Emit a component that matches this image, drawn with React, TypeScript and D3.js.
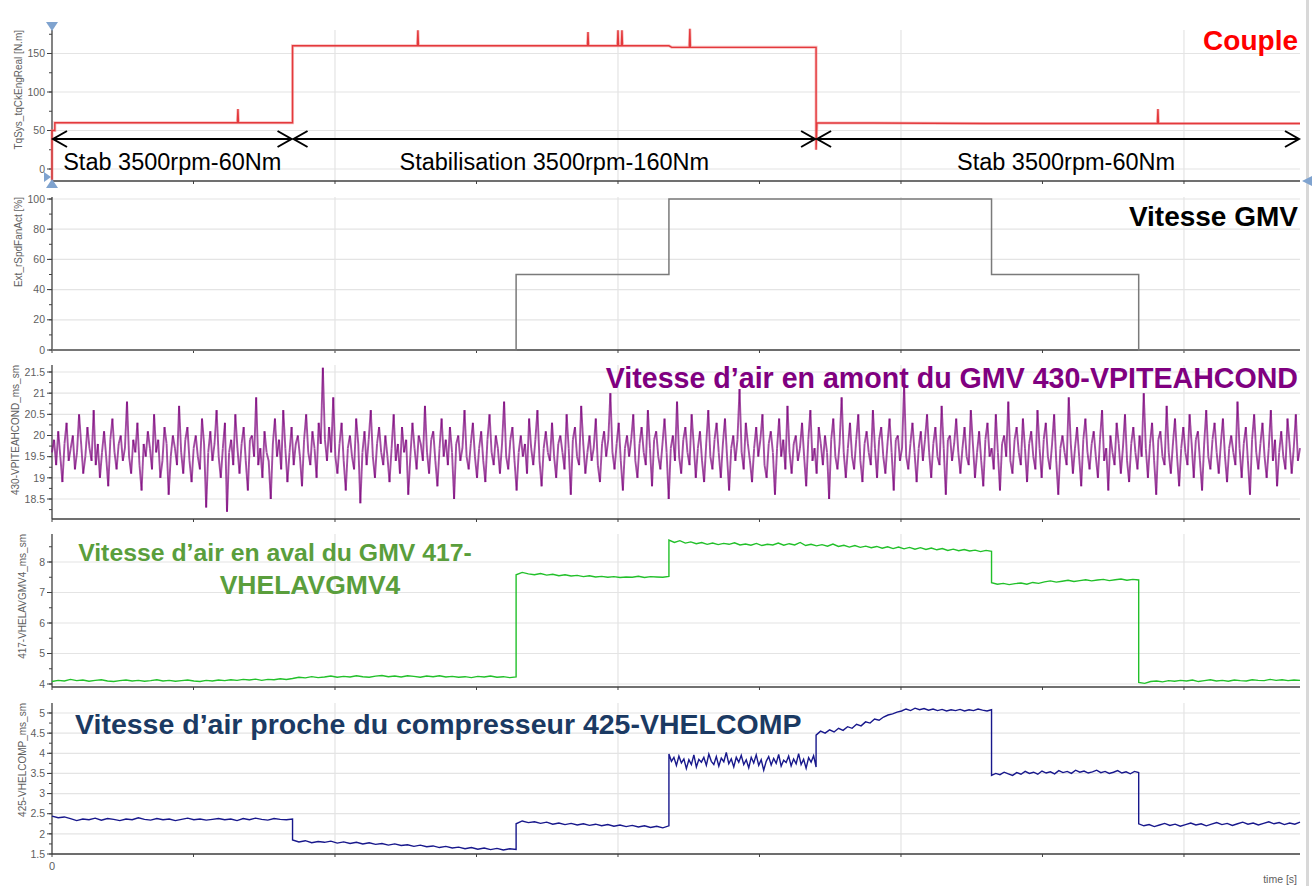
import React from 'react';
import * as d3 from 'd3';

// ---------- DATA ----------
const T_MAX = 4410;

// Couple (torque) trace: time [s] and value [N.m]
const coupleT = [0, 0, 10, 10, 655, 657, 659, 850, 850, 1291, 1293, 1295, 1892, 1894, 1896, 1998, 2000, 2002, 2012, 2014, 2016, 2180, 2190, 2252, 2254, 2256, 2700, 2700, 2703, 3300, 3906, 3908, 3910, 4410];
const coupleV = [-15, 50, 50, 60, 60, 78, 60, 60, 160, 160, 180, 160, 160, 178, 160, 160, 180, 160, 160, 180, 160, 160, 158, 158, 182, 158, 158, 25, 60, 59, 59, 78, 59, 59];

// Phases (arrows)
const phaseStart = [0, 850, 2700];
const phaseEnd = [850, 2700, 4410];
const phaseLabels = ['Stab 3500rpm-60Nm', 'Stabilisation 3500rpm-160Nm', 'Stab 3500rpm-60Nm'];

// Fan speed [%]
const gmvT = [0, 1640, 1640, 2180, 2180, 3320, 3320, 3840, 3840, 4410];
const gmvV = [0, 0, 50, 50, 100, 100, 50, 50, 0, 0];

// Upstream air speed (uniformly sampled over 0..T_MAX)
const amontV = [
  19.6, 19.9, 19.3, 20.1, 19.5, 18.9, 19.8, 20.3, 19.4, 19.7, 20.0, 19.2, 19.6, 20.5, 19.8, 19.1, 19.5, 20.2, 19.7, 19.4,
  20.6, 19.3, 19.8, 19.0, 19.6, 20.1, 19.5, 18.8, 19.9, 20.4, 19.6, 19.2, 19.8, 20.0, 19.4, 19.7, 20.8, 19.5, 19.1, 19.9,
  19.6, 20.3, 19.3, 18.7, 19.8, 19.5, 20.1, 19.7, 19.2, 20.5, 19.6, 19.9, 19.0, 19.4, 20.2, 19.8, 18.6, 19.5, 20.0, 19.7,
  19.3, 20.7, 19.6, 19.1, 19.9, 20.2, 19.4, 18.9, 19.7, 20.0, 19.5, 19.2, 20.4, 19.8, 18.3, 19.6, 20.1, 19.4, 19.8, 20.6,
  19.5, 19.0, 19.7, 20.3, 18.2, 19.6, 19.9, 19.3, 20.5, 19.7, 19.1, 19.8, 20.2, 19.4, 18.7, 19.9, 20.0, 19.5, 20.9, 19.3,
  19.7, 19.0, 20.1, 19.6, 19.4, 18.5, 19.8, 20.4, 19.5, 19.9, 19.2, 20.6, 19.7, 18.9, 19.6, 20.2, 19.3, 19.8, 20.0, 19.5,
  18.8, 19.9, 20.5, 19.6, 19.3, 20.1, 19.7, 19.0, 20.3, 19.8, 21.6, 19.9, 19.4, 20.2, 19.6, 20.9, 19.5, 19.1, 19.8, 20.3,
  19.4, 18.7, 19.7, 20.0, 19.5, 19.2, 20.4, 19.8, 18.4, 19.6, 20.1, 19.3, 19.9, 20.6, 19.5, 19.0, 19.8, 20.2, 19.6, 19.3,
  20.0, 19.5, 18.9, 19.7, 20.5, 19.4, 19.8, 19.1, 20.2, 19.6, 19.9, 18.6, 19.5, 20.3, 19.7, 19.2, 20.0, 19.8, 19.4, 20.7,
  19.6, 19.1, 19.9, 20.1, 19.4, 18.8, 19.7, 20.4, 19.5, 19.9, 19.3, 20.2, 19.6, 18.5, 19.8, 20.0, 19.4, 19.7, 20.6, 19.5,
  19.2, 19.8, 20.3, 19.5, 19.0, 19.7, 20.1, 19.4, 18.9, 19.9, 20.5, 19.6, 19.3, 20.0, 19.7, 19.1, 19.8, 20.8, 19.5, 19.2,
  19.9, 20.2, 19.4, 18.7, 19.6, 20.0, 19.5, 19.8, 19.1, 20.4, 19.7, 19.3, 19.9, 20.6, 19.4, 18.8, 19.7, 20.1, 19.6, 19.4,
  20.3, 19.5, 19.0, 19.8, 20.0, 19.6, 19.2, 20.5, 19.7, 18.6, 19.9, 20.2, 19.5, 19.3, 20.7, 19.8, 19.1, 19.6, 20.0, 19.4,
  19.7, 20.4, 19.3, 18.9, 19.8, 20.1, 19.5, 19.9, 21.0, 19.6, 19.2, 19.8, 20.3, 19.4, 18.7, 19.7, 20.0, 19.5, 19.9, 20.5,
  19.4, 19.0, 19.8, 20.2, 19.6, 19.3, 20.6, 19.7, 18.8, 19.9, 20.1, 19.5, 19.2, 19.8, 20.4, 19.6, 18.5, 19.7, 20.0, 19.4,
  20.8, 19.5, 19.1, 19.9, 20.2, 19.6, 19.3, 20.5, 19.8, 19.0, 19.7, 20.1, 19.4, 18.9, 19.8, 20.6, 19.5, 19.2, 19.9, 20.3,
  19.6, 19.0, 19.8, 20.4, 19.5, 18.7, 19.7, 20.0, 19.4, 19.9, 21.1, 19.6, 19.2, 20.3, 19.8, 19.4, 18.9, 19.7, 20.2, 19.5,
  19.9, 20.5, 19.3, 19.0, 19.8, 20.1, 19.6, 18.6, 19.7, 20.4, 19.5, 19.9, 19.2, 20.7, 19.6, 19.1, 19.8, 20.0, 19.4, 19.7,
  20.3, 19.5, 18.8, 19.9, 20.6, 19.4, 19.7, 19.1, 20.2, 19.8, 19.3, 20.0, 19.6, 18.5, 19.9, 20.4, 19.5, 19.2, 19.8, 20.9,
  19.6, 19.0, 19.7, 20.3, 19.5, 19.2, 19.9, 20.5, 19.4, 18.9, 19.8, 20.1, 19.6, 19.3, 20.6, 19.7, 19.0, 19.9, 20.2, 19.5,
  19.1, 19.8, 20.4, 19.6, 18.7, 19.9, 20.0, 19.4, 19.7, 21.2, 19.5, 19.2, 19.8, 20.3, 19.6, 18.9, 19.7, 20.1, 19.4, 19.9,
  20.5, 19.6, 19.0, 19.8, 20.2, 19.5, 19.3, 20.7, 19.7, 18.6, 19.9, 20.0, 19.4, 19.8, 20.4, 19.6, 19.1, 19.7, 20.2, 19.5,
  19.3, 20.6, 19.8, 19.0, 19.6, 20.1, 19.4, 18.8, 19.9, 20.3, 19.5, 19.7, 19.2, 20.5, 19.6, 18.7, 19.8, 20.0, 19.5, 20.8,
  19.4, 19.1, 19.9, 20.2, 19.6, 19.3, 20.4, 19.7, 18.9, 19.8, 20.1, 19.5, 19.2, 20.6, 19.7, 19.0, 19.9, 20.3, 19.5, 19.2,
  19.8, 20.5, 19.4, 18.6, 19.7, 20.0, 19.6, 19.3, 20.9, 19.8, 19.1, 19.7, 20.2, 19.5, 18.8, 19.9, 20.4, 19.6, 19.2, 19.8,
  20.1, 19.5, 19.0, 19.9, 20.6, 19.4, 19.7, 18.7, 20.0, 19.6, 19.3, 20.3, 19.8, 19.1, 19.7, 20.5, 19.4, 18.9, 19.8, 20.2,
  19.6, 19.2, 20.0, 19.5, 21.0, 19.7, 19.0, 19.8, 20.3, 19.4, 18.6, 19.9, 20.1, 19.5, 19.3, 20.7, 19.6, 19.1, 19.8, 20.4,
  19.5, 18.8, 19.7, 20.2, 19.6, 19.3, 20.5, 19.8, 19.0, 19.9, 20.1, 19.4, 18.7, 19.8, 20.6, 19.5, 19.2, 19.9, 20.3, 19.6,
  19.1, 19.8, 20.4, 19.5, 18.9, 19.7, 20.0, 19.6, 19.3, 20.8, 19.7, 19.0, 19.8, 20.2, 19.4, 18.6, 19.9, 20.5, 19.6, 19.2,
  19.8, 20.3, 19.5, 19.0, 19.7, 20.6, 19.4, 19.9, 18.8, 19.6, 20.1, 19.5, 19.2, 20.4, 19.8, 19.1, 19.7, 20.5, 19.4, 19.7,
];

// Downstream air speed: segment boundaries and samples per segment
const avalBounds = [0, 850, 1640, 2180, 3320, 3840, 4410];
const avalA = [4.08, 4.12, 4.10, 4.15, 4.11, 4.13, 4.09, 4.12, 4.14, 4.10, 4.08, 4.11, 4.13, 4.10, 4.12, 4.09, 4.11, 4.14, 4.10, 4.12, 4.09, 4.11, 4.13, 4.10, 4.08, 4.12, 4.10, 4.13, 4.11, 4.14, 4.12, 4.15, 4.13, 4.16, 4.12, 4.15, 4.14, 4.17, 4.15, 4.18];
const avalB = [4.18, 4.22, 4.20, 4.24, 4.21, 4.23, 4.26, 4.22, 4.25, 4.23, 4.27, 4.24, 4.22, 4.26, 4.28, 4.24, 4.26, 4.23, 4.27, 4.25, 4.22, 4.26, 4.24, 4.27, 4.23, 4.25, 4.22, 4.24, 4.21, 4.25, 4.23, 4.26, 4.22, 4.24, 4.21, 4.23];
const avalC = [7.58, 7.66, 7.61, 7.58, 7.62, 7.57, 7.60, 7.55, 7.58, 7.54, 7.56, 7.52, 7.55, 7.51, 7.53, 7.50, 7.52, 7.49, 7.51, 7.50, 7.53, 7.49, 7.52, 7.51, 7.50, 7.53];
const avalD = [8.72, 8.64, 8.70, 8.62, 8.66, 8.60, 8.64, 8.58, 8.62, 8.57, 8.61, 8.58, 8.63, 8.56, 8.59, 8.55, 8.61, 8.54, 8.58, 8.56, 8.62, 8.55, 8.60, 8.56, 8.64, 8.54, 8.58, 8.53, 8.57, 8.52, 8.59, 8.51, 8.55, 8.49, 8.54, 8.48, 8.52, 8.47, 8.51, 8.45, 8.50, 8.44, 8.49, 8.43, 8.48, 8.42, 8.47, 8.41, 8.46, 8.40, 8.44, 8.38, 8.42, 8.37, 8.41, 8.36, 8.39, 8.34, 8.38, 8.35];
const avalE = [7.32, 7.27, 7.30, 7.26, 7.29, 7.31, 7.27, 7.33, 7.30, 7.35, 7.38, 7.34, 7.37, 7.40, 7.36, 7.39, 7.42, 7.38, 7.41, 7.43, 7.39, 7.42, 7.44, 7.40, 7.43, 7.41];
const avalF = [4.05, 4.02, 4.08, 4.10, 4.07, 4.11, 4.09, 4.12, 4.10, 4.13, 4.08, 4.11, 4.14, 4.10, 4.12, 4.09, 4.13, 4.11, 4.10, 4.14, 4.12, 4.11, 4.15, 4.12, 4.14, 4.11, 4.13, 4.12];

// Compressor air speed
const compBounds = [0, 850, 1640, 2180, 2700, 3320, 3840, 4410];
const compA = [2.44, 2.40, 2.42, 2.38, 2.33, 2.37, 2.35, 2.39, 2.34, 2.38, 2.36, 2.33, 2.37, 2.35, 2.40, 2.36, 2.34, 2.38, 2.35, 2.37, 2.33, 2.36, 2.39, 2.35, 2.37, 2.34, 2.36, 2.38, 2.35, 2.37, 2.33, 2.38, 2.35, 2.39, 2.36, 2.34, 2.38, 2.36, 2.35, 2.37];
const compB = [1.85, 1.80, 1.83, 1.78, 1.81, 1.79, 1.82, 1.77, 1.80, 1.76, 1.79, 1.75, 1.78, 1.74, 1.76, 1.72, 1.75, 1.71, 1.73, 1.69, 1.72, 1.68, 1.70, 1.66, 1.69, 1.65, 1.67, 1.63, 1.66, 1.62, 1.65, 1.61, 1.64, 1.60, 1.63, 1.61];
const compC = [2.25, 2.32, 2.28, 2.30, 2.26, 2.29, 2.24, 2.27, 2.23, 2.26, 2.22, 2.25, 2.21, 2.24, 2.20, 2.23, 2.19, 2.22, 2.18, 2.21, 2.17, 2.20, 2.16, 2.19, 2.15, 2.20];
const compD = [3.98, 3.80, 3.90, 3.70, 3.93, 3.76, 3.86, 3.62, 3.84, 3.72, 3.96, 3.66, 3.85, 3.78, 3.90, 3.70, 3.98, 3.80, 3.72, 3.92, 3.68, 3.88, 3.79, 4.02, 3.74, 3.86, 3.66, 3.90, 3.78, 3.95, 3.72, 3.84, 3.64, 3.90, 3.76, 3.96, 3.70, 3.84, 3.58, 3.80, 3.92, 3.71, 3.87, 3.75, 3.97, 3.68, 3.83, 3.77, 3.93, 3.69, 3.86, 3.74, 3.99, 3.72, 3.85, 3.63, 3.89, 3.78, 3.94, 3.66];
const compE = [4.45, 4.55, 4.50, 4.58, 4.53, 4.62, 4.57, 4.66, 4.62, 4.72, 4.68, 4.78, 4.75, 4.85, 4.82, 4.90, 4.95, 4.98, 5.02, 5.05, 5.10, 5.06, 5.12, 5.08, 5.11, 5.07, 5.10, 5.06, 5.09, 5.05, 5.08, 5.06, 5.09, 5.05, 5.08, 5.06, 5.10, 5.07, 5.05, 5.08];
const compF = [3.45, 3.50, 3.47, 3.53, 3.49, 3.45, 3.52, 3.48, 3.55, 3.50, 3.53, 3.48, 3.56, 3.51, 3.54, 3.49, 3.57, 3.52, 3.55, 3.50, 3.58, 3.53, 3.56, 3.51, 3.54, 3.58, 3.52, 3.55, 3.50, 3.53, 3.57, 3.51, 3.54, 3.49, 3.55, 3.52];
const compG = [2.25, 2.20, 2.23, 2.18, 2.22, 2.26, 2.21, 2.24, 2.19, 2.23, 2.27, 2.22, 2.25, 2.20, 2.24, 2.28, 2.23, 2.26, 2.21, 2.25, 2.29, 2.24, 2.27, 2.22, 2.26, 2.30, 2.25, 2.28, 2.23, 2.27, 2.24, 2.29];

// Axis ticks
const ticksCouple = [0, 50, 100, 150];
const ticksGmv = [0, 20, 40, 60, 80, 100];
const ticksAmont = [18.5, 19, 19.5, 20, 20.5, 21, 21.5];
const ticksAval = [4, 5, 6, 7, 8];
const ticksComp = [1.5, 2, 2.5, 3, 3.5, 4, 4.5, 5];
const timeGrid = [0, 1000, 2000, 3000, 4000];
const timeMinor = [500, 1500, 2500, 3500];

// ---------- HELPERS ----------
type Pt = [number, number];
const zip = (t: number[], v: number[]): Pt[] => t.map((tt, i) => [tt, v[i]]);
const uniform = (vals: number[], t0: number, t1: number): Pt[] =>
  vals.map((v, k) => [t0 + ((t1 - t0) * k) / (vals.length - 1), v]);
const segmented = (bounds: number[], segs: number[][]): Pt[] =>
  segs.flatMap((vals, i) => uniform(vals, bounds[i], bounds[i + 1]));

const X0 = 52;
const X1 = 1300;
const x = d3.scaleLinear().domain([0, T_MAX]).range([X0, X1]);
const LABEL_DX = [0, 0, 8];

interface PanelDef {
  key: string;
  y: d3.ScaleLinear<number, number>;
  top: number;
  bottom: number;
  ticks: number[];
  minorStep: number;
  label: string;
  labelX: number;
}

const panels: PanelDef[] = [
  { key: 'p1', y: d3.scaleLinear().domain([0, 150]).range([169, 53.5]), top: 30, bottom: 181, ticks: ticksCouple, minorStep: 25, label: 'TqSys_tqCkEngReal [N.m]', labelX: 22 },
  { key: 'p2', y: d3.scaleLinear().domain([0, 100]).range([350, 199]), top: 197, bottom: 350, ticks: ticksGmv, minorStep: 10, label: 'Ext_rSpdFanAct [%]', labelX: 22 },
  { key: 'p3', y: d3.scaleLinear().domain([18.5, 21.5]).range([499, 372]), top: 365, bottom: 519, ticks: ticksAmont, minorStep: 0.25, label: '430-VPITEAHCOND_ms_sm', labelX: 19 },
  { key: 'p4', y: d3.scaleLinear().domain([4, 8]).range([684, 562]), top: 534, bottom: 687, ticks: ticksAval, minorStep: 0.5, label: '417-VHELAVGMV4_ms_sm', labelX: 26 },
  { key: 'p5', y: d3.scaleLinear().domain([1.5, 5]).range([854, 713]), top: 703, bottom: 854, ticks: ticksComp, minorStep: 0.25, label: '425-VHELCOMP_ms_sm', labelX: 26 },
];

const GRID = '#e4e4e4';
const AXIS = '#404040';
const TICKTXT = '#606060';
const TRI = '#7fa3cf';
const FONT = 'Liberation Sans, Arial, sans-serif';

function Axes({ p }: { p: PanelDef }) {
  const [d0, d1] = [p.y.invert(p.bottom), p.y.invert(p.top)];
  const minors: number[] = [];
  const startM = Math.ceil(d0 / p.minorStep) * p.minorStep;
  for (let v = startM; v <= d1 + 1e-9; v += p.minorStep) minors.push(v);
  return (
    <g>
      {p.ticks.map((t) => (
        <line key={'hg' + t} x1={X0} x2={X1} y1={p.y(t)} y2={p.y(t)} stroke={GRID} strokeWidth={1.2} />
      ))}
      {timeGrid.slice(1).map((t) => (
        <line key={'vg' + t} x1={x(t)} x2={x(t)} y1={p.top} y2={p.bottom} stroke={GRID} strokeWidth={1.2} />
      ))}
      <line x1={X0} x2={X1} y1={p.bottom} y2={p.bottom} stroke={AXIS} strokeWidth={1.3} />
      {timeGrid.concat(timeMinor).map((t) => (
        <line key={'xt' + t} x1={x(t)} x2={x(t)} y1={p.bottom} y2={p.bottom + 3} stroke={AXIS} strokeWidth={1} />
      ))}
      <line x1={X0} x2={X0} y1={p.top} y2={p.bottom} stroke={AXIS} strokeWidth={1.3} />
      {minors.map((t) => (
        <line key={'mt' + t} x1={X0 - 3} x2={X0} y1={p.y(t)} y2={p.y(t)} stroke={AXIS} strokeWidth={1} />
      ))}
      {p.ticks.map((t) => (
        <g key={'t' + t}>
          <line x1={X0 - 5} x2={X0} y1={p.y(t)} y2={p.y(t)} stroke={AXIS} strokeWidth={1} />
          <text x={X0 - 7} y={p.y(t)} dy="0.35em" textAnchor="end" fontSize={10.5} fill={TICKTXT} fontFamily={FONT}>
            {d3.format('~g')(t)}
          </text>
        </g>
      ))}
      <text transform={`translate(${p.labelX},${p.top}) rotate(-90)`} textAnchor="end" fontSize={10} fill={TICKTXT} fontFamily={FONT}>
        {p.label}
      </text>
    </g>
  );
}

function Arrow({ x1, x2, y }: { x1: number; x2: number; y: number }) {
  const h = 8;
  const l = 14;
  return (
    <g stroke="#000" strokeWidth={2} fill="none">
      <line x1={x1} x2={x2} y1={y} y2={y} />
      <polyline points={`${x1 + l},${y - h} ${x1},${y} ${x1 + l},${y + h}`} />
      <polyline points={`${x2 - l},${y - h} ${x2},${y} ${x2 - l},${y + h}`} />
    </g>
  );
}

export default function App() {
  const [p1, p2, p3, p4, p5] = panels;
  const line = (p: PanelDef) =>
    d3.line<Pt>().x((d) => x(d[0])).y((d) => p.y(d[1]));

  const couplePts = zip(coupleT, coupleV);
  const gmvPts = zip(gmvT, gmvV);
  const amontPts = uniform(amontV, 0, T_MAX);
  const avalPts = segmented(avalBounds, [avalA, avalB, avalC, avalD, avalE, avalF]);
  const compPts = segmented(compBounds, [compA, compB, compC, compD, compE, compF, compG]);

  return (
    <div style={{ position: 'absolute', left: 0, top: 0 }}>
      <svg width={1314} height={886} style={{ display: 'block', background: '#fff' }}>
        <rect x={1306} y={0} width={3} height={886} fill="#d8d8d8" />
        {panels.map((p) => (
          <Axes key={p.key} p={p} />
        ))}

        {/* Panel 1: Couple */}
        <path d={line(p1)(couplePts) || ''} fill="none" stroke="#f08080" strokeWidth={3} strokeOpacity={0.5} />
        <path d={line(p1)(couplePts) || ''} fill="none" stroke="#e4393c" strokeWidth={1.4} />
        {phaseStart.map((s, i) => (
          <g key={'ph' + i}>
            <Arrow x1={x(s) + 1} x2={x(phaseEnd[i]) - 1} y={139} />
            <text x={(x(s) + x(phaseEnd[i])) / 2 + LABEL_DX[i]} y={170} textAnchor="middle" fontSize={23.5} fill="#000" fontFamily={FONT}>
              {phaseLabels[i]}
            </text>
          </g>
        ))}
        <text x={1298} y={50} textAnchor="end" fontSize={28} fontWeight="bold" fill="#ff0000" fontFamily={FONT}>Couple</text>

        {/* Panel 2: GMV */}
        <path d={line(p2)(gmvPts) || ''} fill="none" stroke="#7a7a7a" strokeWidth={1.5} />
        <text x={1298} y={226} textAnchor="end" fontSize={28} fontWeight="bold" fill="#000" fontFamily={FONT}>Vitesse GMV</text>

        {/* Panel 3: amont */}
        <g stroke="#7a007a" strokeWidth={1.9} strokeOpacity={0.7}>
          {amontPts.slice(1).map((d, i) => (
            <line key={'a' + i} x1={x(amontPts[i][0])} y1={p3.y(amontPts[i][1])} x2={x(d[0])} y2={p3.y(d[1])} />
          ))}
        </g>
        <text x={1298} y={388} textAnchor="end" fontSize={28.6} fontWeight="bold" fill="#800080" fontFamily={FONT}>
          Vitesse d’air en amont du GMV 430-VPITEAHCOND
        </text>

        {/* Panel 4: aval */}
        <path d={line(p4)(avalPts) || ''} fill="none" stroke="#22c02a" strokeWidth={1.4} />
        <text x={275} y={561} textAnchor="middle" fontSize={24.8} fontWeight="bold" fill="#5a9e3c" fontFamily={FONT}>
          Vitesse d’air en aval du GMV 417-
        </text>
        <text x={310} y={594} textAnchor="middle" fontSize={26.5} fontWeight="bold" fill="#5a9e3c" fontFamily={FONT}>
          VHELAVGMV4
        </text>

        {/* Panel 5: compresseur */}
        <path d={line(p5)(compPts) || ''} fill="none" stroke="#18188c" strokeWidth={1.4} />
        <text x={75} y={734} fontSize={28.5} fontWeight="bold" fill="#1b3a63" fontFamily={FONT}>
          Vitesse d’air proche du compresseur 425-VHELCOMP
        </text>

        {/* time axis labels */}
        <text x={x(0)} y={870} textAnchor="middle" fontSize={11} fill={TICKTXT} fontFamily={FONT}>0</text>
        <text x={1297} y={883} textAnchor="end" fontSize={10.5} fill={TICKTXT} fontFamily={FONT}>time [s]</text>

        {/* cursor markers */}
        <path d={`M${X0 - 6},22 L${X0 + 6},22 L${X0},31 Z`} fill={TRI} />
        <path d={`M${X0 - 6},188 L${X0 + 6},188 L${X0},179 Z`} fill={TRI} />
        <path d={`M${X0 - 8},172 L${X0 - 8},182 L${X0 - 1},177 Z`} fill={TRI} />
        <path d={`M1312,176 L1312,186 L1302,181 Z`} fill={TRI} />
      </svg>
    </div>
  );
}
